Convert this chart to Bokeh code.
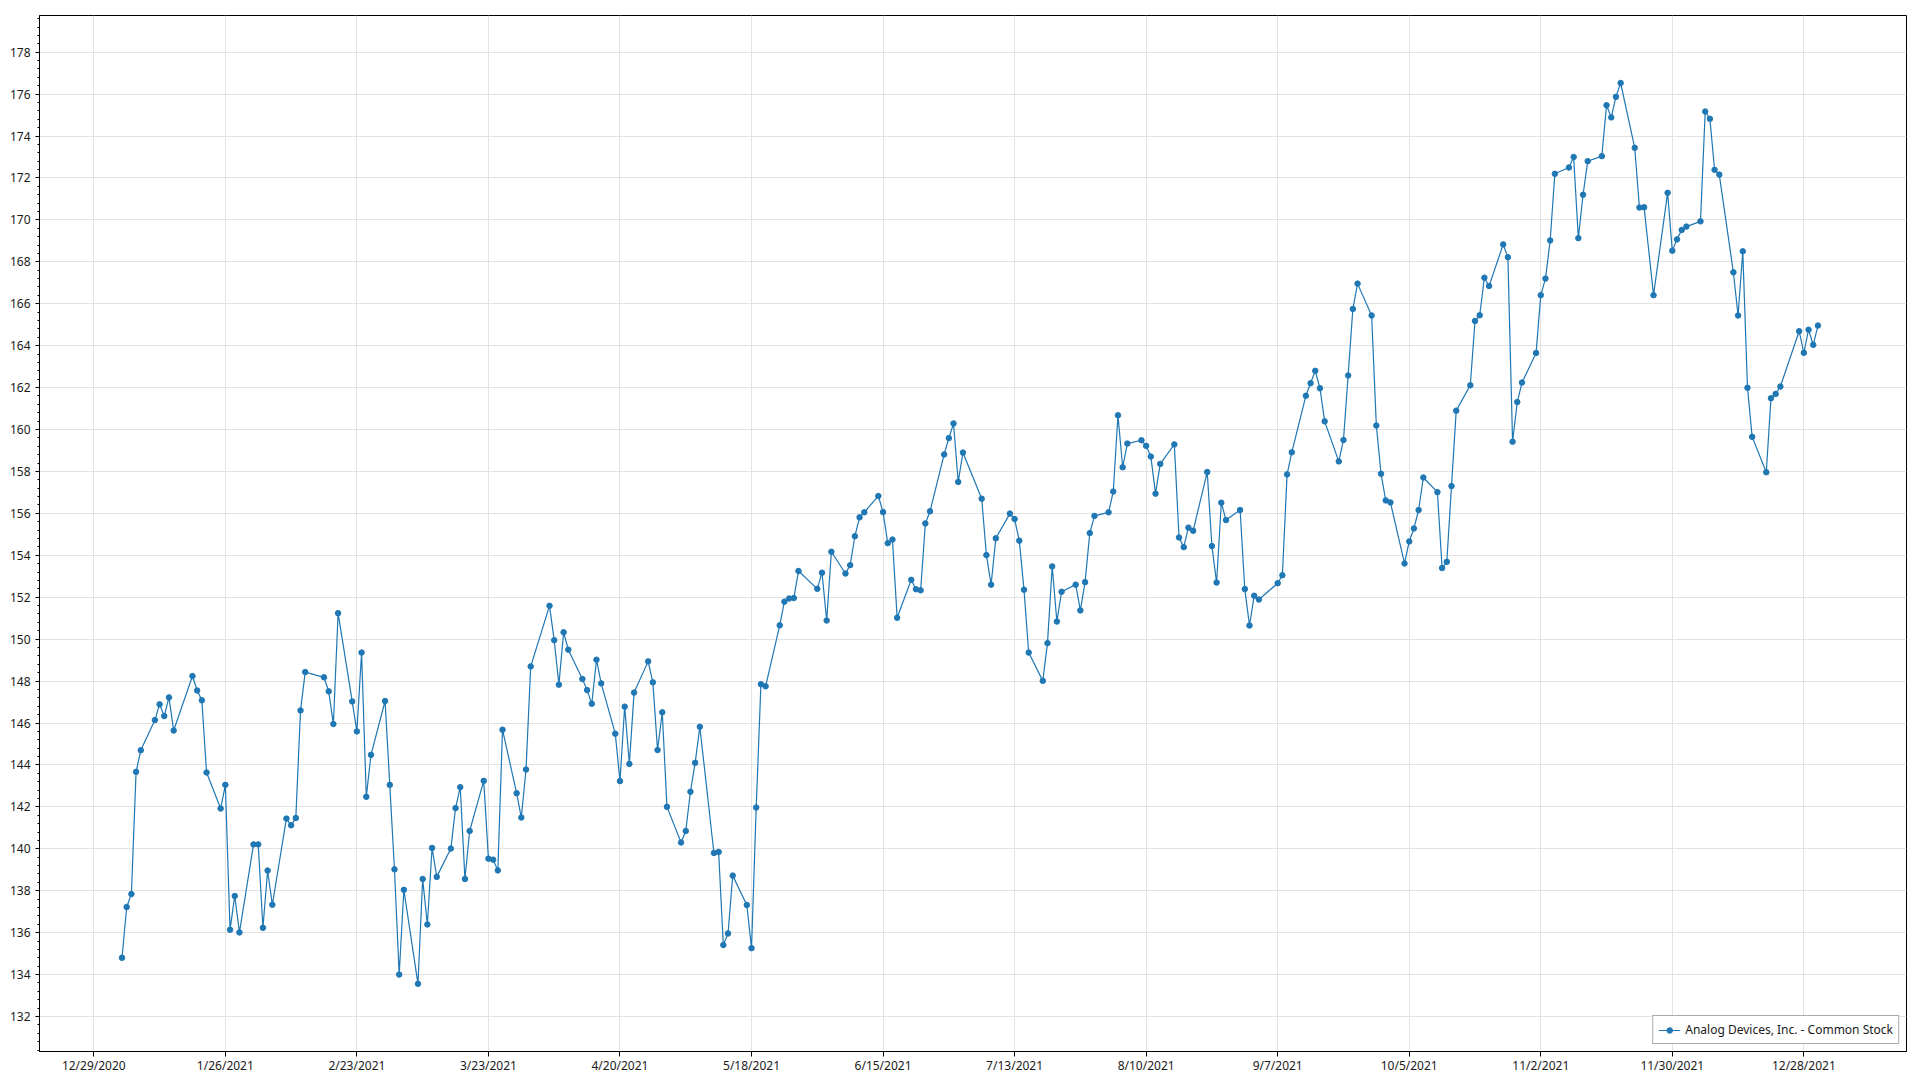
from datetime import date
from bokeh.plotting import figure
from bokeh.models import Range1d, FixedTicker, SingleIntervalTicker, Legend, LegendItem
from bokeh.embed import file_html
from bokeh.resources import INLINE

# ---- data (closing prices, 2021 trading days) ----
jan_days = [4, 5, 6, 7, 8, 11, 12, 13, 14, 15, 19, 20, 21, 22, 25, 26, 27, 28, 29]
jan_vals = [134.80, 137.22, 137.84, 143.67, 144.70, 146.14, 146.89, 146.33, 147.22, 145.64,
            148.24, 147.55, 147.08, 143.64, 141.92, 143.05, 136.14, 137.75, 136.01]
feb_days = [1, 2, 3, 4, 5, 8, 9, 10, 11, 12, 16, 17, 18, 19, 22, 23, 24, 25, 26]
feb_vals = [140.21, 140.21, 136.23, 138.96, 137.33, 141.44, 141.12, 141.47, 146.60, 148.43,
            148.18, 147.51, 145.95, 151.24, 147.03, 145.60, 149.36, 142.48, 144.48]
mar_days = [1, 2, 3, 4, 5, 8, 9, 10, 11, 12, 15, 16, 17, 18, 19, 22, 23, 24, 25, 26, 29, 30, 31]
mar_vals = [147.05, 143.05, 139.02, 134.00, 138.04, 133.56, 138.56, 136.39, 140.04, 138.66,
            140.01, 141.94, 142.94, 138.56, 140.85, 143.24, 139.53, 139.48, 138.97, 145.68,
            142.65, 141.49, 143.78]
apr_days = [1, 5, 6, 7, 8, 9, 12, 13, 14, 15, 16, 19, 20, 21, 22, 23, 26, 27, 28, 29, 30]
apr_vals = [148.70, 151.59, 149.95, 147.83, 150.33, 149.50, 148.10, 147.57, 146.92, 149.02,
            147.89, 145.49, 143.23, 146.78, 144.05, 147.45, 148.94, 147.94, 144.71, 146.51, 142.00]
may_days = [3, 4, 5, 6, 7, 10, 11, 12, 13, 14, 17, 18, 19, 20, 21, 24, 25, 26, 27, 28]
may_vals = [140.30, 140.85, 142.72, 144.10, 145.82, 139.80, 139.85, 135.41, 135.96, 138.72,
            137.32, 135.26, 141.97, 147.85, 147.75, 150.66, 151.79, 151.94, 151.96, 153.25]
jun_days = [1, 2, 3, 4, 7, 8, 9, 10, 11, 14, 15, 16, 17, 18, 21, 22, 23, 24, 25, 28, 29, 30]
jun_vals = [152.40, 153.17, 150.89, 154.17, 153.13, 153.53, 154.91, 155.81, 156.05, 156.83,
            156.06, 154.58, 154.75, 151.02, 152.83, 152.38, 152.33, 155.52, 156.10, 158.81,
            159.59, 160.29]
jul_days = [1, 2, 6, 7, 8, 9, 12, 13, 14, 15, 16, 19, 20, 21, 22, 23, 26, 27, 28, 29, 30]
jul_vals = [157.50, 158.90, 156.70, 154.01, 152.60, 154.81, 155.99, 155.73, 154.70, 152.36,
            149.36, 148.01, 149.81, 153.47, 150.84, 152.26, 152.60, 151.37, 152.72, 155.06, 155.88]
aug_days = [2, 3, 4, 5, 6, 9, 10, 11, 12, 13, 16, 17, 18, 19, 20, 23, 24, 25, 26, 27, 30, 31]
aug_vals = [156.05, 157.04, 160.68, 158.20, 159.33, 159.49, 159.22, 158.71, 156.94, 158.36,
            159.29, 154.85, 154.39, 155.32, 155.17, 157.97, 154.44, 152.70, 156.51, 155.68,
            156.16, 152.39]
sep_days = [1, 2, 3, 7, 8, 9, 10, 13, 14, 15, 16, 17, 20, 21, 22, 23, 24, 27, 28, 29, 30]
sep_vals = [150.65, 152.07, 151.89, 152.67, 153.05, 157.86, 158.91, 161.61, 162.21, 162.80,
            161.97, 160.39, 158.48, 159.50, 162.58, 165.75, 166.96, 165.44, 160.19, 157.89, 156.62]
oct_days = [1, 4, 5, 6, 7, 8, 11, 12, 13, 14, 15, 18, 19, 20, 21, 22, 25, 26, 27, 28, 29]
oct_vals = [156.52, 153.61, 154.66, 155.28, 156.16, 157.71, 157.01, 153.39, 153.69, 157.30,
            160.90, 162.11, 165.18, 165.45, 167.24, 166.85, 168.83, 168.22, 159.42, 161.31, 162.24]
nov_days = [1, 2, 3, 4, 5, 8, 9, 10, 11, 12, 15, 16, 17, 18, 19, 22, 23, 24, 26, 29, 30]
nov_vals = [163.65, 166.41, 167.20, 169.02, 172.20, 172.50, 173.00, 169.13, 171.20, 172.80,
            173.04, 175.47, 174.89, 175.87, 176.53, 173.44, 170.59, 170.60, 166.41, 171.29, 168.53]
dec_days = [1, 2, 3, 6, 7, 8, 9, 10, 13, 14, 15, 16, 17, 20, 21, 22, 23, 27, 28, 29, 30, 31]
dec_vals = [169.07, 169.52, 169.68, 169.93, 175.17, 174.82, 172.39, 172.16, 167.50, 165.44,
            168.50, 161.99, 159.65, 157.96, 161.49, 161.70, 162.05, 164.69, 163.66, 164.76,
            164.04, 164.96]

tick_labels = ["12/29/2020", "1/26/2021", "2/23/2021", "3/23/2021", "4/20/2021", "5/18/2021",
               "6/15/2021", "7/13/2021", "8/10/2021", "9/7/2021", "10/5/2021", "11/2/2021",
               "11/30/2021", "12/28/2021"]
series_name = "Analog Devices, Inc. - Common Stock"

months = [(1, jan_days, jan_vals), (2, feb_days, feb_vals), (3, mar_days, mar_vals),
          (4, apr_days, apr_vals), (5, may_days, may_vals), (6, jun_days, jun_vals),
          (7, jul_days, jul_vals), (8, aug_days, aug_vals), (9, sep_days, sep_vals),
          (10, oct_days, oct_vals), (11, nov_days, nov_vals), (12, dec_days, dec_vals)]

origin = date(2020, 12, 29)
xs, ys = [], []
for m, ds, vs in months:
    for d, v in zip(ds, vs):
        xs.append((date(2021, m, d) - origin).days)
        ys.append(v)

def parse(lbl):
    mm, dd, yy = (int(t) for t in lbl.split("/"))
    return (date(yy, mm, dd) - origin).days

tick_pos = [parse(l) for l in tick_labels]

FONT = "Noto Sans"
TXT = "#1a1a1a"

p = figure(width=1912, height=1076, output_backend="svg", toolbar_location=None,
           x_range=Range1d(-11.56, 385.85), y_range=Range1d(130.33, 179.75),
           min_border_left=39, min_border_right=6, min_border_top=15, min_border_bottom=22)
p.background_fill_color = "white"
p.border_fill_color = "white"
p.outline_line_color = "black"
p.outline_line_width = 1

p.xaxis.ticker = FixedTicker(ticks=tick_pos)
p.xaxis.major_label_overrides = {t: l for t, l in zip(tick_pos, tick_labels)}
p.yaxis.ticker = SingleIntervalTicker(interval=2, num_minor_ticks=5)

for ax in (p.xaxis[0], p.yaxis[0]):
    ax.axis_line_color = "black"
    ax.major_tick_line_color = "black"
    ax.minor_tick_line_color = "black"
    ax.major_label_text_font = FONT
    ax.major_label_text_font_size = "12px"
    ax.major_label_text_color = TXT
    ax.major_tick_in = 0
    ax.minor_tick_in = 0
p.xaxis.major_tick_out = 5
p.xaxis.minor_tick_out = 0
p.xaxis.major_label_standoff = 0
p.yaxis.major_tick_out = 4
p.yaxis.minor_tick_out = 2
p.yaxis.major_label_standoff = 5

p.xgrid.ticker = FixedTicker(ticks=tick_pos)
p.grid.grid_line_color = "#e3e3e3"
p.grid.grid_line_width = 1

color = "#1f77b4"
r_line = p.line(xs, ys, line_color=color, line_width=1.2)
r_pts = p.scatter(xs, ys, size=5.5, fill_color=color, line_color=color)

legend = Legend(items=[LegendItem(label=series_name, renderers=[r_line, r_pts])],
                location="bottom_right")
legend.label_text_font = FONT
legend.label_text_font_size = "12px"
legend.label_text_color = TXT
legend.border_line_color = "#555555"
legend.border_line_width = 1.5
legend.background_fill_alpha = 1
legend.padding = 5
legend.margin = 7
legend.label_height = 14
legend.glyph_height = 14
legend.glyph_width = 22
legend.spacing = 0
p.add_layout(legend)

open("out.html", "w").write(file_html(p, INLINE))
